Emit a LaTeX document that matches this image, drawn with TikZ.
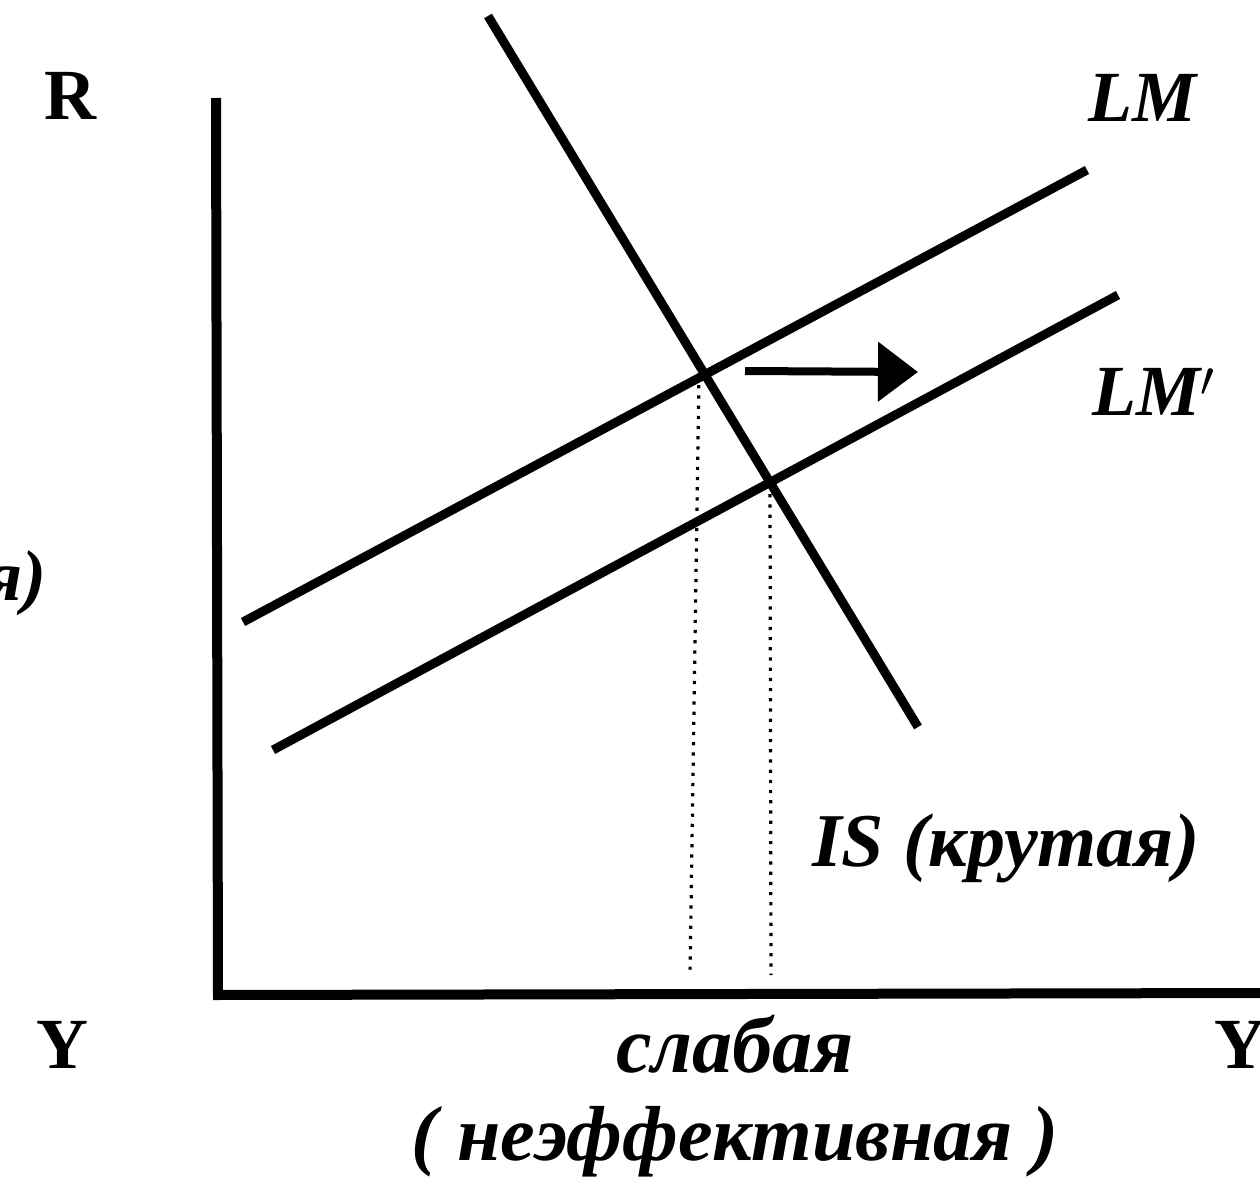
\documentclass[tikz,border=0pt]{standalone}
\usepackage{fontspec}
\setmainfont{Liberation Serif}
\usetikzlibrary{arrows.meta}
\begin{document}
\begin{tikzpicture}[x=0.5pt, y=-0.5pt, font=\bfseries\fontsize{35}{40}\selectfont,
    curve/.style={line width=4.5pt},
    axis/.style={line width=5pt},
    guide/.style={line width=1.6pt, dash pattern=on 1.6pt off 3.5pt},
    lbl/.style={inner sep=0pt, anchor=base west, font=\bfseries\itshape\fontsize{36}{40}\selectfont},
    >={Triangle[length=20pt, width=29pt]}]
  \useasboundingbox (0,0) rectangle (1260,1188);
  \clip (0,0) rectangle (1260,1188);
  % axes
  \coordinate (O) at (218,995);
  \coordinate (Rtop) at (216,98);
  \coordinate (Yend) at (1270,993);
  \draw[axis] (Rtop) -- (O) -- (Yend);
  % curves
  \coordinate (LMa) at (243,622);  \coordinate (LMb) at (1087,170);
  \coordinate (LMpa) at (273,750); \coordinate (LMpb) at (1118,295);
  \coordinate (ISa) at (488,16);   \coordinate (ISb) at (918,727);
  \draw[curve] (LMa) -- (LMb);
  \draw[curve] (LMpa) -- (LMpb);
  \draw[curve] (ISa) -- (ISb);
  % equilibria
  \coordinate (E1) at (699,375);
  \coordinate (E2) at (770,484);
  \coordinate (Y1) at (690,975);
  \coordinate (Y2) at (771,975);
  \draw[guide] (E1) -- (Y1);
  \draw[guide] (E2) -- (Y2);
  % shift
  \coordinate (sa) at (745,371);
  \coordinate (sb) at (918,372);
  \draw[->, line width=4pt] (sa) -- (sb);
  % labels
  \node[lbl, font=\bfseries\fontsize{36}{40}\selectfont] (R) at (44,120) {R};
  \node[lbl, font=\bfseries\fontsize{36}{40}\selectfont] (Yl) at (36,1068) {Y};
  \node[lbl, font=\bfseries\fontsize{36}{40}\selectfont] (Yr) at (1214,1068) {Y};
  \node[lbl, anchor=base east] (cut) at (47,600) {я)};
  \node[lbl] (LM) at (1088,122) {LM};
  \node[lbl] (LMp) at (1092,415) {LM$^{\prime}$};
  \node[lbl, font=\bfseries\itshape\fontsize{38}{40}\selectfont] (IS) at (812,866) {IS (крутая)};
  \node[lbl, anchor=base, font=\bfseries\itshape\fontsize{40}{44}\selectfont] (weak) at (735,1072) {слабая};
  \node[lbl, anchor=base, font=\bfseries\itshape\fontsize{39}{44}\selectfont] (ineff) at (735,1160) {( неэффективная )};
\end{tikzpicture}
\end{document}
